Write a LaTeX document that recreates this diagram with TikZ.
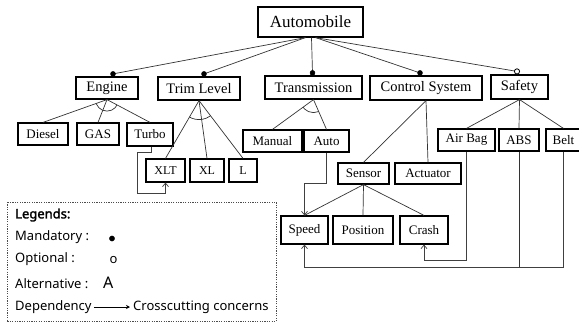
\documentclass[tikz,border=0pt]{standalone}
\usepackage{fontspec}
\setmainfont{Liberation Serif}
\newfontfamily\legfont{Noto Sans}
\newfontfamily\legboldfont[FakeBold=2]{Noto Sans}
\usetikzlibrary{arrows.meta,calc}
\begin{document}
\begin{tikzpicture}[x=1pt,y=-1pt,
  box/.style={draw,line width=1.2pt,inner sep=0pt},
  lvone/.style={box,font=\fontsize{14.5}{14.5}\selectfont},
  lvtwo/.style={box,font=\fontsize{13}{13}\selectfont},
  edge/.style={draw=black!80,line width=0.7pt},
  dep/.style={draw=black!75,line width=0.7pt,-{Straight Barb[length=3.5pt,width=6pt]}},
  mand/.style={fill=black,draw=black},
  legtext/.style={anchor=west,inner sep=0pt,font=\legfont\fontsize{13}{13}\selectfont}]
\useasboundingbox (0,0) rectangle (579,322);

% nodes
\node[box,font=\fontsize{17}{17}\selectfont,minimum width=105,minimum height=30] (auto) at (310.5,22) {Automobile};
\node[lvone,minimum width=62,minimum height=22] (engine) at (107,88) {Engine};
\node[lvone,minimum width=82,minimum height=23] (trim) at (199,88.5) {Trim Level};
\node[lvone,minimum width=97,minimum height=23] (trans) at (313.5,87.5) {Transmission};
\node[lvone,minimum width=112,minimum height=24] (ctrl) at (426,88) {Control System};
\node[lvone,minimum width=57,minimum height=24] (safety) at (519.5,87) {Safety};

\node[lvtwo,minimum width=50,minimum height=22] (diesel) at (43,134) {Diesel};
\node[lvtwo,minimum width=42,minimum height=22] (gas) at (98,134) {GAS};
\node[lvtwo,minimum width=46,minimum height=23] (turbo) at (150,134.5) {Turbo};
\node[lvtwo,minimum width=59,minimum height=22] (manual) at (272.5,141) {Manual};
\node[lvtwo,minimum width=45,minimum height=22] (autot) at (326.5,141) {Auto};
\node[lvtwo,minimum width=57,minimum height=22] (airbag) at (466.5,140) {Air Bag};
\node[lvtwo,minimum width=40,minimum height=22] (abs) at (519,140) {ABS};
\node[lvtwo,minimum width=35,minimum height=22] (belt) at (563.5,140) {Belt};

\node[lvtwo,font=\fontsize{12}{12}\selectfont,minimum width=39,minimum height=23] (xlt) at (165.5,170.5) {XLT};
\node[lvtwo,font=\fontsize{12}{12}\selectfont,minimum width=34,minimum height=23] (xl) at (207,170.5) {XL};
\node[lvtwo,font=\fontsize{12}{12}\selectfont,minimum width=28,minimum height=23] (l) at (243,170.5) {L};
\node[lvtwo,minimum width=51,minimum height=21] (sensor) at (363.5,173.5) {Sensor};
\node[lvtwo,minimum width=66,minimum height=21] (actuator) at (428,173.5) {Actuator};

\node[lvtwo,minimum width=47,minimum height=28] (speed) at (304.5,230) {Speed};
\node[lvtwo,minimum width=60,minimum height=28] (position) at (363,230) {Position};
\node[lvtwo,minimum width=48,minimum height=28] (crash) at (424,230) {Crash};

% top-level edges
\coordinate (dE) at ($(engine.north)+(6,-2.5)$);
\coordinate (dT) at ($(trim.north)+(5,-2.5)$);
\coordinate (dR) at ($(trans.north)+(-1,-2.5)$);
\coordinate (dC) at ($(ctrl.north)+(-6,-2.5)$);
\coordinate (dS) at ($(safety.north)+(-2.5,-3)$);
\draw[edge] ($(auto.south)+(-5,0)$) -- (dE);
\draw[edge] ($(auto.south)+(-5,0)$) -- (dT);
\draw[edge] ($(auto.south)+(1,0)$) -- (dR);
\draw[edge] ($(auto.south)+(5,0)$) -- (dC);
\draw[edge] ($(auto.south)+(5,0)$) -- (dS);
\fill[mand] (dE) circle (2.5);
\fill[mand] (dT) circle (2.5);
\fill[mand] (dR) circle (2.5);
\fill[mand] (dC) circle (2.5);
\draw[fill=white,line width=0.8pt] (dS) circle (2.6);

% engine group (alternative)
\draw[edge] (engine.south) -- (diesel.north);
\draw[edge] (engine.south) -- (gas.north);
\draw[edge] (engine.south) -- (turbo.north);
\begin{scope}
\clip (engine.south) -- (diesel.north) -- (turbo.north) -- cycle;
\draw[edge] (engine.south) circle (11.5);
\end{scope}

% trim group (alternative)
\draw[edge] (trim.south) -- (xlt.north);
\draw[edge] (trim.south) -- (xl.north);
\draw[edge] (trim.south) -- (l.north);
\begin{scope}
\clip (trim.south) -- (xlt.north) -- (l.north) -- cycle;
\draw[edge] (trim.south) circle (19);
\end{scope}

% transmission group (alternative)
\draw[edge] (trans.south) -- (manual.north);
\draw[edge] (trans.south) -- (autot.north);
\begin{scope}
\clip (trans.south) -- (manual.north) -- (autot.north) -- cycle;
\draw[edge] (trans.south) circle (13);
\end{scope}

% control system
\draw[edge] (ctrl.south) -- (sensor.north);
\draw[edge] (ctrl.south) -- (actuator.north);

% safety
\draw[edge] (safety.south) -- (airbag.north);
\draw[edge] (safety.south) -- (abs.north);
\draw[edge] (safety.south) -- (belt.north);

% sensor
\draw[edge] (sensor.south) -- (speed.north);
\draw[edge] (sensor.south) -- (position.north);
\draw[edge] (sensor.south) -- (crash.north);

% dependencies
\coordinate (t0) at ($(turbo.south)+(1.5,0)$);
\coordinate (t1) at (137.5,152);
\coordinate (t2) at (137.5,193);
\draw[dep] (t0) |- (t1) -- (t2) -| (xlt.south);

\coordinate (a1) at (0,183);
\draw[dep] (autot.south) |- (speed.north |- a1) -- (speed.north);

\coordinate (b1) at (0,260);
\draw[dep] (airbag.south) |- (crash.south |- b1) -- (crash.south);

\coordinate (c1) at (0,267);
\draw[edge] (abs.south) -- (abs.south |- c1);
\draw[dep] (belt.south) |- (speed.south |- c1) -- (speed.south);

% legend
\draw[black!70,line width=0.7pt,dash pattern=on 1.2pt off 1.2pt] (7,202) rectangle (276,321.5);
\node[legtext,font=\legboldfont\fontsize{13}{13}\selectfont] (lg) at (15,215) {Legends:};
\node[legtext] (lm) at (15,237) {Mandatory :};
\node[legtext] (lo) at (15,259.5) {Optional :};
\node[legtext] (la) at (15,284) {Alternative :};
\node[legtext] (ld) at (15,307) {Dependency};
\fill[mand] (112,238.5) circle (2.6);
\node[legtext] (lo2) at (109.5,260.5) {o};
\node[legtext,font=\legfont\fontsize{16}{16}\selectfont] (la2) at (103,283) {A};
\node[legtext] (lc) at (133,307) {Crosscutting concerns};
\draw[line width=0.7pt,-{Stealth[length=4pt,width=4pt]}] (ld.east) ++(2,0) -- ($(lc.west)+(-3,0)$);
\end{tikzpicture}
\end{document}
